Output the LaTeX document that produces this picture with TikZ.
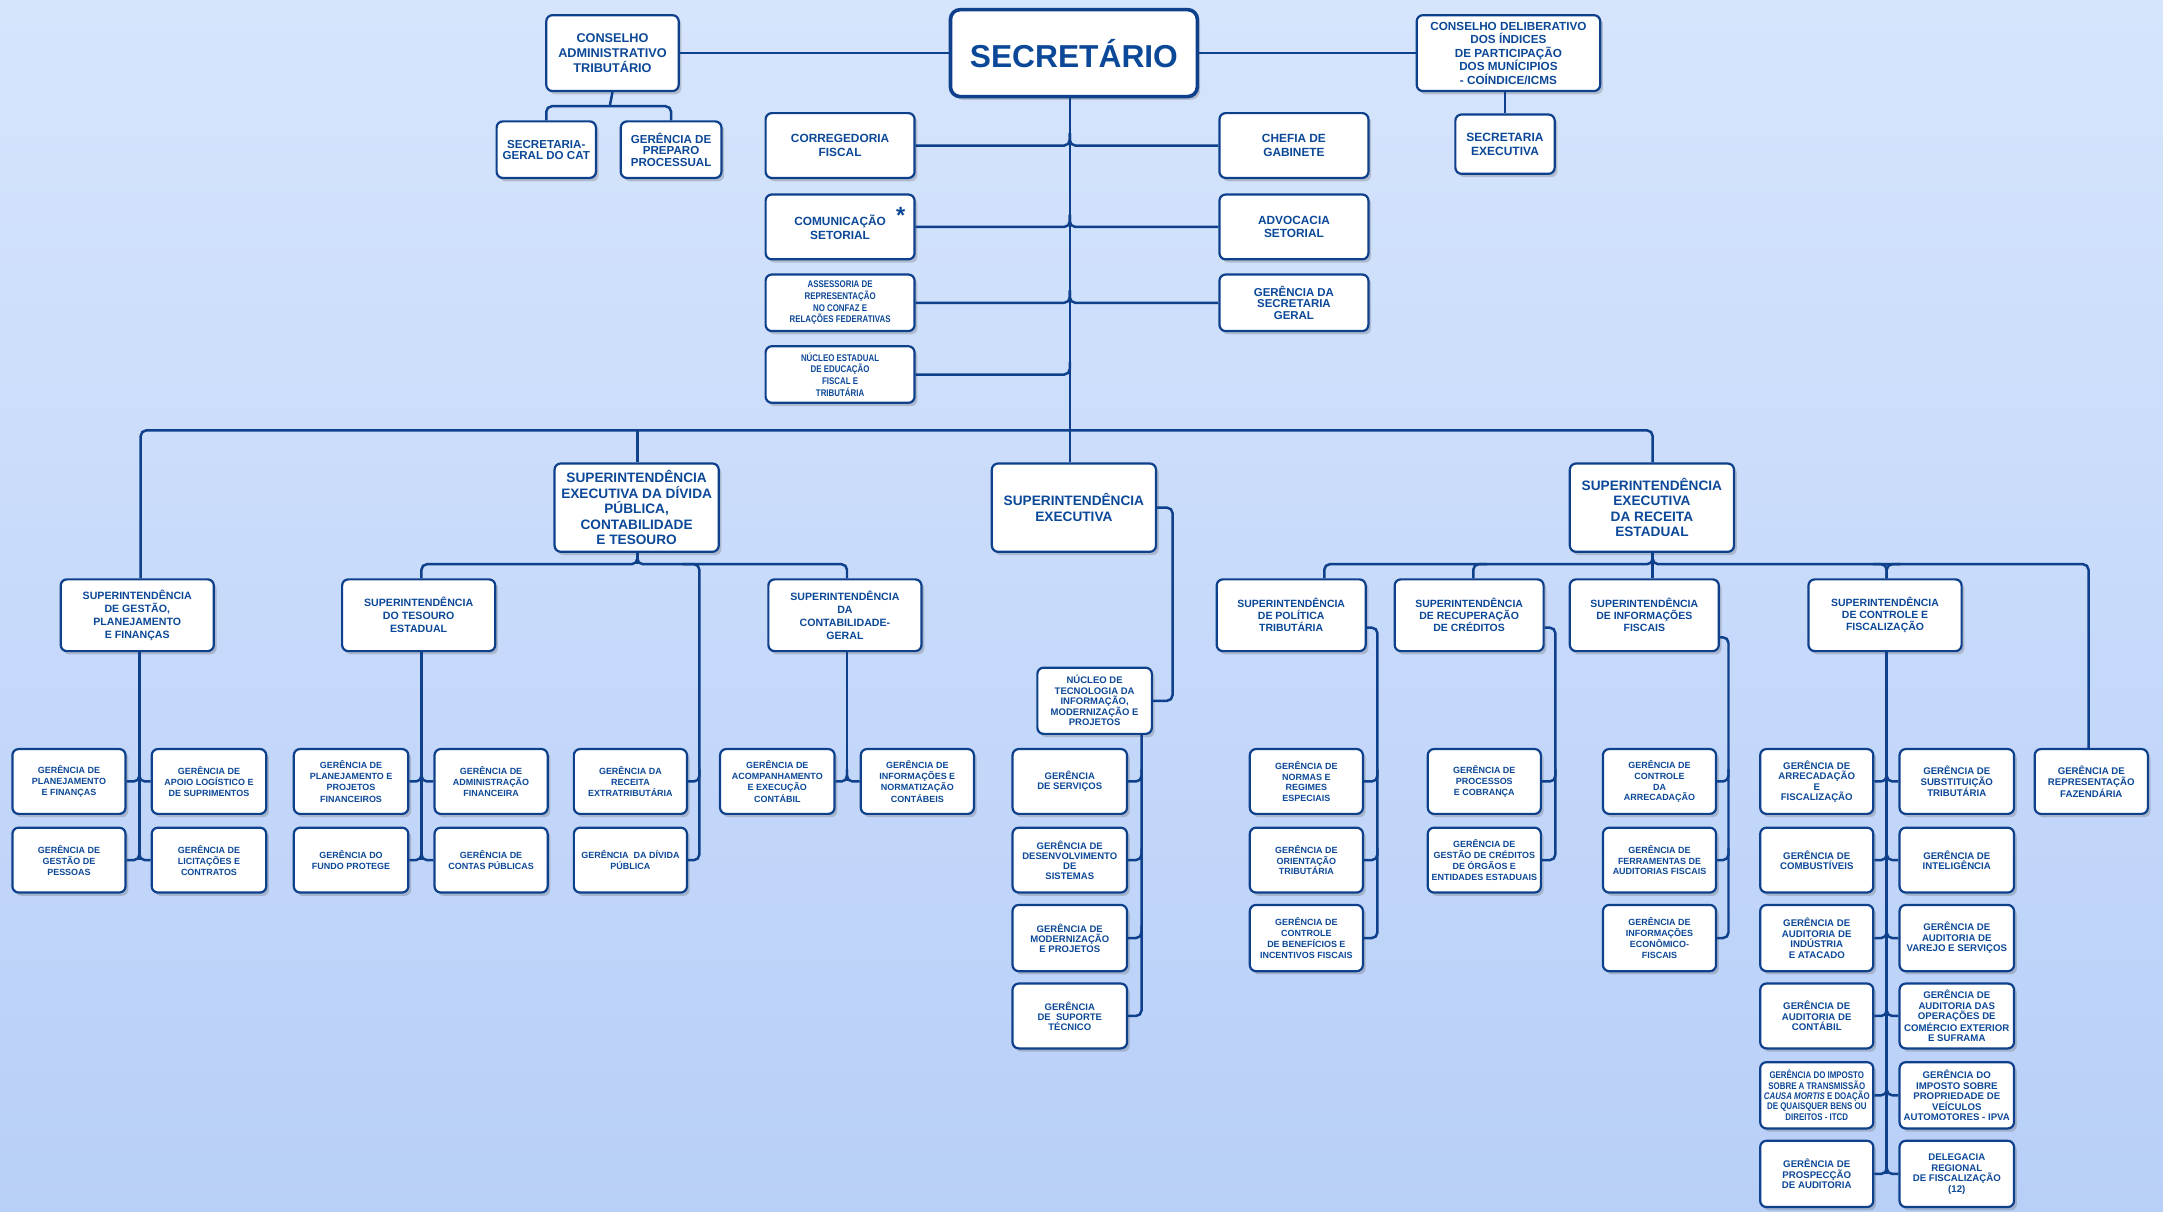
\documentclass[tikz,border=0pt]{standalone}
\usepackage{fontspec}
\setmainfont{Liberation Sans}
\newfontfamily\narrowfont[FakeStretch=0.82]{Liberation Sans}
\usetikzlibrary{shadows}
\definecolor{txt}{RGB}{12,72,152}
\definecolor{edge}{RGB}{14,64,140}
\definecolor{bgA}{RGB}{214,229,252}
\definecolor{bgB}{RGB}{192,213,249}
\definecolor{bgC}{RGB}{184,207,248}
\newcommand{\bx}[7]{%
  \pgfmathsetmacro{\bxw}{#4-#2}\pgfmathsetmacro{\bxh}{#5-#3}%
  \pgfmathsetmacro{\bxcx}{(#2+#4)/2}\pgfmathsetmacro{\bxcy}{(#3+#5)/2}%
  \node[box,#6,minimum width=\bxw pt,minimum height=\bxh pt] (#1) at (\bxcx,\bxcy) {#7};}
\tikzset{
  box/.style={draw=edge, line width=1.6pt, fill=white, rounded corners=4.5pt, inner sep=0pt,
    align=center, text=txt, drop shadow={shadow xshift=2pt, shadow yshift=-2.4pt, opacity=0.3, fill=black!60}},
  conn/.style={draw=edge, line width=1.8pt, rounded corners=4pt},
  secbox/.style={line width=2.6pt, rounded corners=7pt, font=\bfseries\fontsize{23}{26}\selectfont},
  fa/.style={font=\bfseries\fontsize{8.6}{10}\selectfont},
  fn/.style={font=\narrowfont\bfseries\fontsize{7}{8.5}\selectfont},
  fse/.style={font=\bfseries\fontsize{9.9}{11.2}\selectfont},
  fsub/.style={font=\bfseries\fontsize{7.7}{9.4}\selectfont},
  fsubr/.style={font=\bfseries\fontsize{7.6}{8.7}\selectfont},
  fgl/.style={font=\bfseries\fontsize{6.5}{8}\selectfont},
  fgc/.style={font=\bfseries\fontsize{6.9}{7.3}\selectfont},
  fgr/.style={font=\bfseries\fontsize{6.5}{7.9}\selectfont},
  fgf/.style={font=\bfseries\fontsize{7}{7.6}\selectfont},
  fgn/.style={font=\narrowfont\bfseries\fontsize{7}{7.5}\selectfont},
}
\begin{document}
\begin{tikzpicture}[x=1pt,y=-1pt]
\shade[top color=bgA, middle color=bgB, bottom color=bgC] (0,0) rectangle (1568,878);
\useasboundingbox (0,0) rectangle (1568,878);

% ---------- top ----------
\bx{sec}{689}{7}{868}{70}{secbox}{SECRETÁRIO}
\bx{cat}{396}{11}{492}{66}{font=\bfseries\fontsize{9.2}{10.7}\selectfont}{CONSELHO\\ADMINISTRATIVO\\TRIBUTÁRIO}
\bx{sgc}{360}{88}{432}{129}{font=\bfseries\fontsize{8.4}{8.2}\selectfont}{SECRETARIA-\\GERAL DO CAT}
\bx{gpp}{450}{88}{523}{129}{font=\bfseries\fontsize{8.4}{8.5}\selectfont}{GERÊNCIA DE\\PREPARO\\PROCESSUAL}
\bx{cd}{1027}{11}{1160}{66}{font=\bfseries\fontsize{8.5}{9.8}\selectfont}{CONSELHO DELIBERATIVO\\DOS ÍNDICES\\DE PARTICIPAÇÃO\\DOS MUNÍCIPIOS\\- COÍNDICE/ICMS}
\bx{sexe}{1055}{83}{1127}{126}{font=\bfseries\fontsize{8.7}{10}\selectfont}{SECRETARIA\\EXECUTIVA}
\bx{correg}{555}{82}{663}{129}{fa}{CORREGEDORIA\\FISCAL}
\bx{chefia}{884}{82}{992}{129}{fa}{CHEFIA DE\\GABINETE}
\bx{comun}{555}{141}{663}{188}{fa}{COMUNICAÇÃO\\SETORIAL}
\node[text=txt, font=\bfseries\fontsize{17}{17}\selectfont, inner sep=0pt] (ast) at (653,156) {*};
\bx{advoc}{884}{141}{992}{188}{fa}{ADVOCACIA\\SETORIAL}
\bx{assess}{555}{199}{663}{240}{fn}{ASSESSORIA DE\\REPRESENTAÇÃO\\NO CONFAZ E\\RELAÇÕES FEDERATIVAS}
\bx{gsg}{884}{199}{992}{240}{font=\bfseries\fontsize{8.3}{8.6}\selectfont}{GERÊNCIA DA\\SECRETARIA\\GERAL}
\bx{nucleo}{555}{251}{663}{292}{fn}{NÚCLEO ESTADUAL\\DE EDUCAÇÃO\\FISCAL E\\TRIBUTÁRIA}

% ---------- level 2 ----------
\bx{sdiv}{402}{336}{521}{400}{fse}{SUPERINTENDÊNCIA\\EXECUTIVA DA DÍVIDA\\PÚBLICA,\\CONTABILIDADE\\E TESOURO}
\bx{sexec}{719}{336}{838}{400}{fse}{SUPERINTENDÊNCIA\\EXECUTIVA}
\bx{srec}{1138}{336}{1257}{400}{fse}{SUPERINTENDÊNCIA\\EXECUTIVA\\DA RECEITA\\ESTADUAL}

% ---------- level 3 ----------
\bx{sgpf}{44}{420}{155}{472}{fsub}{SUPERINTENDÊNCIA\\DE GESTÃO,\\PLANEJAMENTO\\E FINANÇAS}
\bx{ste}{248}{420}{359}{472}{fsub}{SUPERINTENDÊNCIA\\DO TESOURO\\ESTADUAL}
\bx{scg}{557}{420}{668}{472}{fsub}{SUPERINTENDÊNCIA\\DA\\CONTABILIDADE-\\GERAL}
\bx{spt}{882}{420}{990}{472}{fsubr}{SUPERINTENDÊNCIA\\DE POLÍTICA\\TRIBUTÁRIA}
\bx{src}{1011}{420}{1119}{472}{fsubr}{SUPERINTENDÊNCIA\\DE RECUPERAÇÃO\\DE CRÉDITOS}
\bx{sif}{1138}{420}{1246}{472}{fsubr}{SUPERINTENDÊNCIA\\DE INFORMAÇÕES\\FISCAIS}
\bx{scf}{1311}{420}{1422}{472}{fsubr}{SUPERINTENDÊNCIA\\DE CONTROLE E\\FISCALIZAÇÃO}

% ---------- gerências left ----------
\bx{gpf}{9}{543}{91}{590}{fgl}{GERÊNCIA DE\\PLANEJAMENTO\\E FINANÇAS}
\bx{gals}{110}{543}{193}{590}{fgl}{GERÊNCIA DE\\APOIO LOGÍSTICO E\\DE SUPRIMENTOS}
\bx{ggp}{9}{600}{91}{647}{fgl}{GERÊNCIA DE\\GESTÃO DE\\PESSOAS}
\bx{glc}{110}{600}{193}{647}{fgl}{GERÊNCIA DE\\LICITAÇÕES E\\CONTRATOS}
\bx{gppf}{213}{543}{296}{590}{fgl}{GERÊNCIA DE\\PLANEJAMENTO E\\PROJETOS\\FINANCEIROS}
\bx{gaf}{315}{543}{397}{590}{fgl}{GERÊNCIA DE\\ADMINISTRAÇÃO\\FINANCEIRA}
\bx{gfp}{213}{600}{296}{647}{fgl}{GERÊNCIA DO\\FUNDO PROTEGE}
\bx{gcp}{315}{600}{397}{647}{fgl}{GERÊNCIA DE\\CONTAS PÚBLICAS}
\bx{gre}{416}{543}{498}{590}{fgl}{GERÊNCIA DA\\RECEITA\\EXTRATRIBUTÁRIA}
\bx{gdp}{416}{600}{498}{647}{fgl}{GERÊNCIA~~DA DÍVIDA\\PÚBLICA}
\bx{gaec}{522}{543}{605}{590}{fgl}{GERÊNCIA DE\\ACOMPANHAMENTO\\E EXECUÇÃO\\CONTÁBIL}
\bx{ginc}{624}{543}{706}{590}{fgl}{GERÊNCIA DE\\INFORMAÇÕES E\\NORMATIZAÇÃO\\CONTÁBEIS}

% ---------- centre ----------
\bx{ntec}{752}{484}{835}{532}{fgc}{NÚCLEO DE\\TECNOLOGIA DA\\INFORMAÇÃO,\\MODERNIZAÇÃO E\\PROJETOS}
\bx{gs}{734}{543}{817}{590}{fgc}{GERÊNCIA\\DE SERVIÇOS}
\bx{gds}{734}{600}{817}{647}{fgc}{GERÊNCIA DE\\DESENVOLVIMENTO\\DE\\SISTEMAS}
\bx{gmp}{734}{656}{817}{704}{fgc}{GERÊNCIA DE\\MODERNIZAÇÃO\\E PROJETOS}
\bx{gst}{734}{713}{817}{760}{fgc}{GERÊNCIA\\DE~~SUPORTE\\TÉCNICO}

% ---------- right ----------
\bx{gnre}{906}{543}{988}{590}{fgr}{GERÊNCIA DE\\NORMAS E\\REGIMES\\ESPECIAIS}
\bx{got}{906}{600}{988}{647}{fgr}{GERÊNCIA DE\\ORIENTAÇÃO\\TRIBUTÁRIA}
\bx{gcbif}{906}{656}{988}{704}{fgr}{GERÊNCIA DE\\CONTROLE\\DE BENEFÍCIOS E\\INCENTIVOS FISCAIS}
\bx{gpc}{1035}{543}{1117}{590}{fgr}{GERÊNCIA DE\\PROCESSOS\\E COBRANÇA}
\bx{ggcoe}{1035}{600}{1117}{647}{fgr}{GERÊNCIA DE\\GESTÃO DE CRÉDITOS\\DE ÓRGÃOS E\\ENTIDADES ESTADUAIS}
\bx{gca}{1162}{543}{1244}{590}{fgr}{GERÊNCIA DE\\CONTROLE\\DA\\ARRECADAÇÃO}
\bx{gfaf}{1162}{600}{1244}{647}{fgr}{GERÊNCIA DE\\FERRAMENTAS DE\\AUDITORIAS FISCAIS}
\bx{gief}{1162}{656}{1244}{704}{fgr}{GERÊNCIA DE\\INFORMAÇÕES\\ECONÔMICO-\\FISCAIS}

\bx{garf}{1276}{543}{1358}{590}{fgf}{GERÊNCIA DE\\ARRECADAÇÃO\\E\\FISCALIZAÇÃO}
\bx{gcomb}{1276}{600}{1358}{647}{fgf}{GERÊNCIA DE\\COMBUSTÍVEIS}
\bx{gaia}{1276}{656}{1358}{704}{fgf}{GERÊNCIA DE\\AUDITORIA DE\\INDÚSTRIA\\E ATACADO}
\bx{gac}{1276}{713}{1358}{760}{fgf}{GERÊNCIA DE\\AUDITORIA DE\\CONTÁBIL}
\bx{gitcd}{1276}{770}{1358}{818}{fgn}{GERÊNCIA DO IMPOSTO\\SOBRE A TRANSMISSÃO\\\textit{CAUSA MORTIS} E DOAÇÃO\\DE QUAISQUER BENS OU\\DIREITOS - ITCD}
\bx{gpa}{1276}{827}{1358}{875}{fgf}{GERÊNCIA DE\\PROSPECÇÃO\\DE AUDITORIA}
\bx{gstr}{1377}{543}{1460}{590}{fgf}{GERÊNCIA DE\\SUBSTITUIÇÃO\\TRIBUTÁRIA}
\bx{gint}{1377}{600}{1460}{647}{fgf}{GERÊNCIA DE\\INTELIGÊNCIA}
\bx{gavs}{1377}{656}{1460}{704}{fgf}{GERÊNCIA DE\\AUDITORIA DE\\VAREJO E SERVIÇOS}
\bx{gace}{1377}{713}{1460}{760}{fgf}{GERÊNCIA DE\\AUDITORIA DAS\\OPERAÇÕES DE\\COMÉRCIO EXTERIOR\\E SUFRAMA}
\bx{gipva}{1377}{770}{1460}{818}{fgf}{GERÊNCIA DO\\IMPOSTO SOBRE\\PROPRIEDADE DE\\VEÍCULOS\\AUTOMOTORES - IPVA}
\bx{drf}{1377}{827}{1460}{875}{fgf}{DELEGACIA\\REGIONAL\\DE FISCALIZAÇÃO\\(12)}
\bx{grf}{1475}{543}{1557}{590}{fgf}{GERÊNCIA DE\\REPRESENTAÇÃO\\FAZENDÁRIA}

% ---------- coordinates ----------
\coordinate (trk) at (775.5,0);
\coordinate (bus) at (0,312);
\coordinate (xg) at (102,0);
\coordinate (xd) at (462,0);
\coordinate (xr) at (1198,0);
\coordinate (busd) at (0,409);
\coordinate (xte) at (305.5,0);
\coordinate (xcg) at (614,0);
\coordinate (xdx) at (507,0);
\coordinate (t1) at (101,0);
\coordinate (xse) at (850,0);
\coordinate (xnt) at (827.5,0);
\coordinate (xpt) at (960,0);
\coordinate (xtr) at (998.5,0);
\coordinate (xrc) at (1068,0);
\coordinate (xrt) at (1127.5,0);
\coordinate (xit) at (1253,0);
\coordinate (xcf) at (1367.7,0);
\coordinate (xrf) at (1514,0);
\coordinate (catj) at (442,77);
\coordinate (sptc) at ([yshift=-9pt]spt.east);
\coordinate (srcc) at ([yshift=-9pt]src.east);
\coordinate (sifc) at ([yshift=-16pt]sif.east);

% ---------- connectors ----------
\draw[conn] (cat.east) -- (sec.west);
\draw[conn] (sec.east) -- (cd.west);
\draw[conn] (cat.south) -- (catj);
\draw[conn] (sgc.north) -- (sgc.north |- catj) -- (gpp.north |- catj) -- (gpp.north);
\draw[conn] (sexe.north |- cd.south) -- (sexe.north);

\draw[conn] (sec.south -| trk) -- (sexec.north -| trk);
\foreach \n in {correg,comun,assess,nucleo}
  \draw[conn] (\n.east) -- (\n.east -| trk) -- ++(0,-9);
\foreach \n in {chefia,advoc,gsg}
  \draw[conn] (\n.west) -- (\n.west -| trk) -- ++(0,-9);

\draw[conn] (sgpf.north -| xg) -- (xg |- bus) -- (xr |- bus) -- (srec.north -| xr);
\draw[conn] (xd |- bus) -- (sdiv.north -| xd);

% divida
\draw[conn] (sdiv.south -| xd) -- (xd |- busd);
\draw[conn] (ste.north -| xte) -- (xte |- busd) -- (xd |- busd) -- ++(0,-8);
\draw[conn] (scg.north -| xcg) -- (xcg |- busd) -- (xd |- busd) -- ++(0,-8);
\draw[conn] (gdp.east) -- (gdp.east -| xdx) -- (xdx |- busd) -- ++(-12,0);
\draw[conn] (gre.east) -- (gre.east -| xdx) -- ++(0,-9);

% SGPF
\draw[conn] (sgpf.south -| t1) -- (ggp.east -| t1);
\foreach \n in {gpf,ggp} \draw[conn] (\n.east) -- (\n.east -| t1) -- ++(0,-9);
\foreach \n in {gals,glc} \draw[conn] (\n.west) -- (\n.west -| t1) -- ++(0,-9);
% STE
\draw[conn] (ste.south -| xte) -- (gfp.east -| xte);
\foreach \n in {gppf,gfp} \draw[conn] (\n.east) -- (\n.east -| xte) -- ++(0,-9);
\foreach \n in {gaf,gcp} \draw[conn] (\n.west) -- (\n.west -| xte) -- ++(0,-9);
% SCG
\draw[conn] (scg.south -| xcg) -- (gaec.east -| xcg);
\draw[conn] (gaec.east) -- (gaec.east -| xcg) -- ++(0,-9);
\draw[conn] (ginc.west) -- (ginc.west -| xcg) -- ++(0,-9);

% SE executiva
\draw[conn] (sexec.east) -- (sexec.east -| xse) -- (ntec.east -| xse) -- (ntec.east);
\draw[conn] (ntec.south -| xnt) -- (gst.east -| xnt) -- (gst.east);
\foreach \n in {gs,gds,gmp} \draw[conn] (\n.east) -- (\n.east -| xnt) -- ++(0,-9);

% receita bus
\draw[conn] (srec.south -| xr) -- (sif.north -| xr);
\draw[conn] (spt.north -| xpt) -- (xpt |- busd) -- (xr |- busd) -- ++(0,-8);
\draw[conn] (grf.north -| xrf) -- (xrf |- busd) -- (xr |- busd) -- ++(0,-8);
\draw[conn] (src.north -| xrc) -- (xrc |- busd) -- ++(10,0);
\draw[conn] (scf.north -| xcf) -- (xcf |- busd) -- ++(10,0);
\draw[conn] (scf.north -| xcf) -- (xcf |- busd) -- ++(-10,0);

% SPT
\draw[conn] (sptc) -- (sptc -| xtr) -- (gcbif.east -| xtr) -- (gcbif.east);
\foreach \n in {gnre,got} \draw[conn] (\n.east) -- (\n.east -| xtr) -- ++(0,-9);
% SRC
\draw[conn] (srcc) -- (srcc -| xrt) -- (ggcoe.east -| xrt) -- (ggcoe.east);
\draw[conn] (gpc.east) -- (gpc.east -| xrt) -- ++(0,-9);
% SIF
\draw[conn] (sifc) -- (sifc -| xit) -- (gief.east -| xit) -- (gief.east);
\foreach \n in {gca,gfaf} \draw[conn] (\n.east) -- (\n.east -| xit) -- ++(0,-9);
% SCF
\draw[conn] (scf.south -| xcf) -- (gpa.east -| xcf);
\foreach \n in {garf,gcomb,gaia,gac,gitcd,gpa} \draw[conn] (\n.east) -- (\n.east -| xcf) -- ++(0,-9);
\foreach \n in {gstr,gint,gavs,gace,gipva,drf} \draw[conn] (\n.west) -- (\n.west -| xcf) -- ++(0,-9);
\end{tikzpicture}
\end{document}
